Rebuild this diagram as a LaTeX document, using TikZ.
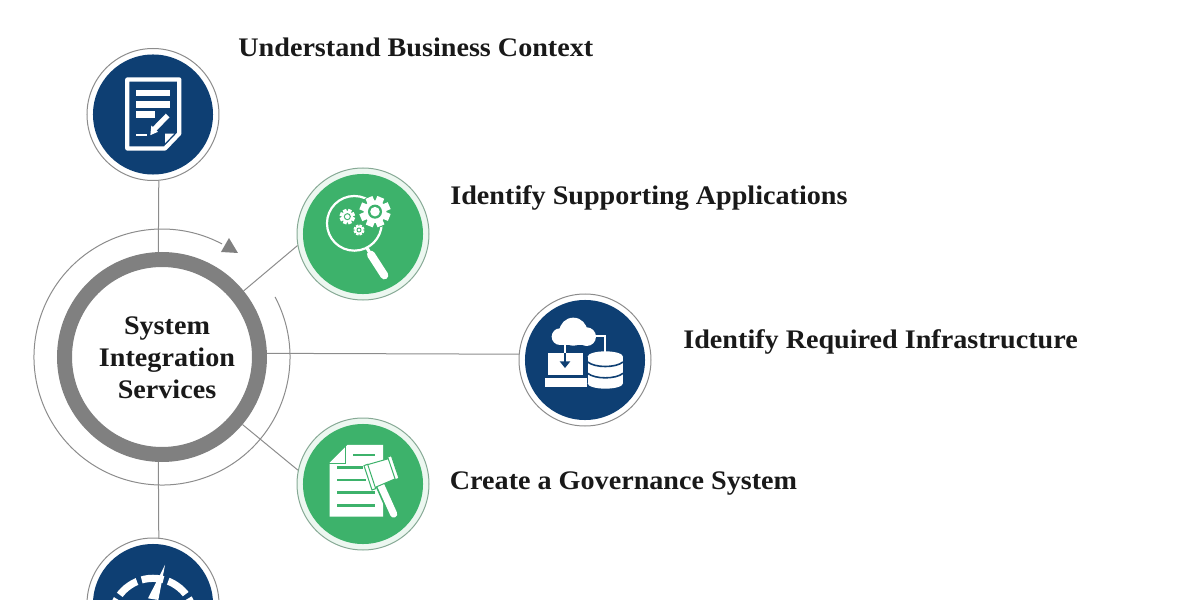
\documentclass[tikz,border=0pt]{standalone}
\usepackage{fontspec}
\setmainfont[FakeStretch=1.05]{Liberation Serif}
\usepackage{tikz}
\usetikzlibrary{positioning}
\definecolor{navy}{HTML}{0E3F73}
\definecolor{leaf}{HTML}{3DB26B}
\definecolor{ringgray}{HTML}{808080}
\definecolor{wiregray}{HTML}{8C8C8C}
\definecolor{leafwire}{HTML}{86A995}
\tikzset{
  bluedisc/.style={draw=wiregray, fill=white, circle, line width=.5pt, minimum size=66pt, inner sep=0pt},
  greendisc/.style={draw=leafwire, fill=leaf!10, circle, line width=.5pt, minimum size=66pt, inner sep=0pt},
  heading/.style={font=\bfseries\fontsize{13.4}{16}\selectfont, text=black!90, inner sep=0pt, text height=9pt, text depth=3pt},
  wire/.style={draw=wiregray, line width=.5pt},
  glyph/.style={shift={(#1)}, x=.1667pt, y=-.1667pt}
}
\newcommand{\gearglyph}[3]{
  \fill[leaf] (#1,#2) circle (1.45*#3);
  \fill[white] (#1,#2) circle (#3);
  \foreach \a in {0,45,...,315}
    \draw[white, line width=#3*.11pt] (#1,#2) -- ++(\a+22:1.36*#3);
  \fill[leaf] (#1,#2) circle (.62*#3);
  \fill[white] (#1,#2) circle (.42*#3);
}
\begin{document}
\begin{tikzpicture}[on grid]
  \useasboundingbox (-81pt,-121.5pt) rectangle (519pt,178.5pt);
  \node[draw=ringgray, circle, line width=7.5pt, minimum size=97.5pt, inner sep=0pt] (hub) at (0,0) {};
  \node[font=\bfseries\fontsize{13.4}{16}\selectfont, align=center, text=black!90, xshift=2.5pt, yshift=-.5pt] (hubname) at (hub) {System\\Integration\\Services};
  \node[bluedisc, above left=121.25pt and 4.5pt of hub] (Bctx) {};
  \node[greendisc, above right=61.5pt and 100.5pt of hub] (Apps) {};
  \node[bluedisc, below right=1.5pt and 211.5pt of hub] (Infra) {};
  \node[greendisc, below right=63.5pt and 100.5pt of hub] (Gov) {};
  \node[bluedisc, below left=123.5pt and 4.5pt of hub] (Perf) {};
  \node[heading, above right=31.75pt and 42.5pt of Bctx, anchor=west] (BctxT) {Understand Business Context};
  \node[heading, above right=17.5pt and 43.5pt of Apps, anchor=west] (AppsT) {Identify Supporting Applications};
  \node[heading, above right=9pt and 49pt of Infra, anchor=west] (InfraT) {Identify Required Infrastructure};
  \node[heading, above right=.5pt and 43.25pt of Gov, anchor=west] (GovT) {Create a Governance System};

  \draw[wire] (hub.92) -- (Bctx.-85);
  \draw[wire] (hub.39) -- (Apps.190);
  \draw[wire] (hub.2) -- (Infra.175);
  \draw[wire] (hub.-40) -- (Gov.168);
  \draw[wire] (hub.-92) -- (Perf.85);
  \draw[wire] (28:64pt) arc[start angle=28, end angle=-298, radius=64pt] coordinate (turn);
  \fill[ringgray] (29.5pt,52.5pt) -- (38pt,52pt) -- (33.5pt,59.5pt) -- cycle;

  \begin{scope}[glyph=Bctx]
    \fill[navy] (0,0) circle (180);
    \draw[white, line width=2.1pt, line join=round] (-77,-105) -- (79,-105) -- (79,57) -- (36,102) -- (-77,102) -- cycle;
    \fill[white] (-51,-72) rectangle (51,-54);
    \fill[white] (-51,-40) rectangle (51,-20);
    \fill[white] (-51,-9) rectangle (6,10);
    \fill[white] (-51,58) rectangle (-17,65);
    \draw[white, line width=2.6pt] (4,44) -- (44,3);
    \fill[white] (-8,62) -- (-5,33) -- (15,52) -- cycle;
    \fill[white] (36,57) -- (64,57) -- (36,86) -- cycle;
  \end{scope}

  \begin{scope}[glyph=Apps]
    \fill[leaf] (0,0) circle (180);
    \draw[white, line width=1.1pt] (-26,-32) circle (82);
    \gearglyph{36}{-67}{34}
    \gearglyph{-47}{-52}{17}
    \gearglyph{-12}{-12}{12}
    \draw[white, line width=1.6pt] (12,42) -- (24,62);
    \draw[white, line width=4pt, line cap=round] (24,62) -- (64,124);
  \end{scope}

  \begin{scope}[glyph=Infra]
    \fill[navy] (0,0) circle (180);
    \fill[white] (-35,-85) circle (42);
    \fill[white] (-75,-70) circle (25);
    \fill[white] (5,-70) circle (28);
    \fill[white] (-75,-70) rectangle (5,-45);
    \draw[white, line width=1.1pt] (20,-72) -- (60,-72) -- (60,-25);
    \draw[white, line width=1.1pt] (-60,-45) -- (-60,-20);
    \fill[white] (-110,-20) rectangle (-5,45);
    \fill[white] (-120,55) rectangle (5,80);
    \draw[navy, line width=1.1pt] (-60,-20) -- (-60,8);
    \fill[navy] (-76,4) -- (-44,4) -- (-60,24) -- cycle;
    \fill[white] (8,-10) rectangle (114,70);
    \fill[white] (61,-10) ellipse (53 and 16);
    \fill[white] (61,70) ellipse (53 and 16);
    \draw[navy, line width=.8pt] (8,6) .. controls (30,24) and (92,24) .. (114,6);
    \draw[navy, line width=.8pt] (8,40) .. controls (30,58) and (92,58) .. (114,40);
  \end{scope}

  \begin{scope}[glyph=Gov]
    \fill[leaf] (0,0) circle (180);
    \fill[white] (-47,-117) -- (60,-117) -- (60,98) -- (-100,98) -- (-100,-64) -- cycle;
    \draw[leaf, line width=.5pt] (-52,-118) -- (-52,-62) -- (-102,-62);
    \fill[leaf] (-30,-91) rectangle (35,-83);
    \fill[leaf] (-77,-53) rectangle (0,-45);
    \fill[leaf] (-77,-16) rectangle (10,-8);
    \fill[leaf] (-77,22) rectangle (35,30);
    \fill[leaf] (-77,61) rectangle (35,69);
    \draw[leaf, line width=5.2pt] (47,-10) -- (92,92);
    \draw[white, line width=3.6pt, line cap=round] (47,-10) -- (92,90);
    \fill[white, draw=leaf, line width=.5pt] (10,-57) -- (80,-77) -- (100,-17) -- (30,13) -- cycle;
    \fill[white, draw=leaf, line width=.5pt] (3,-55) -- (14,-59) -- (38,14) -- (27,18) -- cycle;
    \fill[white, draw=leaf, line width=.5pt] (74,-81) -- (85,-85) -- (108,-17) -- (97,-13) -- cycle;
  \end{scope}

  \begin{scope}[glyph=Perf]
    \fill[navy] (0,0) circle (180);
    \draw[white, line width=3.6pt, dash pattern=on 11pt off 2.5pt] (-125,48) arc[start angle=180, end angle=360, radius=125];
    \fill[white] (36,-117) -- (16,-12) -- (-15,-17) -- cycle;
  \end{scope}
\end{tikzpicture}
\end{document}
